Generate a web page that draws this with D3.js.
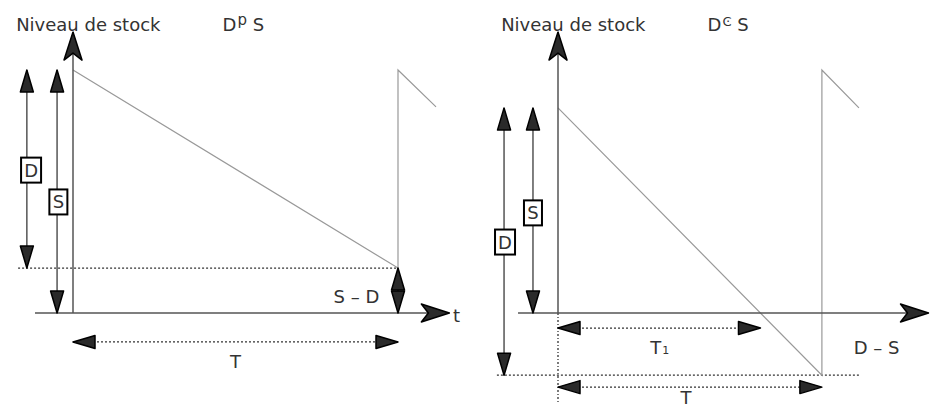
<!DOCTYPE html>
<head>
  <meta charset="utf-8">
  <script src="https://d3js.org/d3.v7.min.js"></script>
  <style>
    body { margin:0; background:#fff; }
    text { font-family: "DejaVu Sans", sans-serif; font-size: 18px; fill: #333; }
    .axis { stroke: #555; stroke-width: 1.5; fill: none; }
    .stock { stroke: #999; stroke-width: 1.2; fill: none; }
    .dots { stroke: #333; stroke-width: 1.3; stroke-dasharray: 2,2; fill: none; }
    .dim { stroke: #555; stroke-width: 1.5; fill: none; }
    .box { fill: #fff; stroke: #000; stroke-width: 2; }
  </style>
</head>
<body>
  <div class="chart"></div>
  <script>
    const width = 936, height = 414;

    // shared units: t in time units, level in stock units
    const titles = ['Niveau de stock', 'Niveau de stock'];
    const symbols = ['p', 'Ͼ'];           // superscript between D and S
    const origins = [73, 558];             // px of t = 0 for each panel
    const S = [10, 8.44];                  // order level at start of cycle
    const D = [8.15, 11];                  // demand over the cycle
    const T = [10, 8.12];                  // cycle length
    const nextPeak = [10, 10];             // restart level of next cycle
    const nextEnd = [[11.17, 8.48], [9.26, 8.44]];
    const xAxisExtent = [[-1.17, 11.58], [-1.23, 11.4]];
    const yAxisTop = 11.56;

    const svg = d3.select('.chart').append('svg')
      .attr('width', width).attr('height', height);

    const defs = svg.append('defs');
    defs.append('marker').attr('id', 'tri')
      .attr('markerUnits', 'userSpaceOnUse')
      .attr('viewBox', '-26 -9 28 18').attr('markerWidth', 28).attr('markerHeight', 18)
      .attr('refX', 0).attr('refY', 0).attr('orient', 'auto-start-reverse')
      .append('path').attr('d', 'M0,0 L-22,-6.5 L-22,6.5 Z')
      .attr('fill', '#2a2a2a').attr('stroke', '#000').attr('stroke-width', 1.5)
      .attr('stroke-linejoin', 'round');
    defs.append('marker').attr('id', 'stealth')
      .attr('markerUnits', 'userSpaceOnUse')
      .attr('viewBox', '-32 -12 34 24').attr('markerWidth', 34).attr('markerHeight', 24)
      .attr('refX', 0).attr('refY', 0).attr('orient', 'auto')
      .append('path').attr('d', 'M0,0 L-28,-9 L-21,0 L-28,9 Z')
      .attr('fill', '#2a2a2a').attr('stroke', '#000').attr('stroke-width', 1.5)
      .attr('stroke-linejoin', 'round');

    const y = d3.scaleLinear().domain([0, 10]).range([313, 70]);
    const line = (x) => d3.line().x(d => x(d[0])).y(d => y(d[1]));

    function seg(g, cls, x, a, b, start, end) {
      const p = g.append('path').attr('class', cls).attr('d', line(x)([a, b]));
      if (start) p.attr('marker-start', 'url(#' + start + ')');
      if (end) p.attr('marker-end', 'url(#' + end + ')');
      return p;
    }

    function boxLabel(g, cx, cy, txt, w) {
      g.append('rect').attr('class', 'box')
        .attr('x', cx - w / 2).attr('y', cy - 12.5).attr('width', w).attr('height', 25);
      g.append('text').attr('x', cx).attr('y', cy + 6.5)
        .attr('text-anchor', 'middle').text(txt);
    }

    function title(g, x, i) {
      g.append('text').attr('x', x(-1.75)).attr('y', y(11.6)).text(titles[i]);
      const t = g.append('text').attr('x', x(4.6)).attr('y', y(11.6));
      t.append('tspan').text('D');
      t.append('tspan').attr('dy', i ? -5 : -6).style('font-size', i ? '13px' : '15px')
        .attr('dx', 1).text(symbols[i]);
      t.append('tspan').attr('dy', i ? 5 : 6).text('\u00a0S');
    }

    // ---------- left panel : D < S ----------
    {
      const i = 0, g = svg.append('g');
      const x = d3.scaleLinear().domain([0, 1]).range([origins[i], origins[i] + 32.5]);
      const low = S[i] - D[i];

      seg(g, 'dots', x, [-1.69, low], [T[i], low]);
      g.append('path').attr('class', 'stock').attr('d', line(x)([
        [0, S[i]], [T[i], low], [T[i], nextPeak[i]], nextEnd[i]
      ]));

      seg(g, 'axis', x, [xAxisExtent[i][0], 0], [xAxisExtent[i][1], 0], null, 'stealth');
      seg(g, 'axis', x, [0, 0], [0, yAxisTop], null, 'stealth');

      seg(g, 'dim', x, [-1.42, S[i]], [-1.42, low], 'tri', 'tri');
      seg(g, 'dim', x, [-0.49, S[i]], [-0.49, 0], 'tri', 'tri');
      seg(g, 'dim', x, [T[i], low], [T[i], 0], 'tri', 'tri');
      seg(g, 'dots', x, [0, -1.19], [T[i], -1.19], 'tri', 'tri');

      boxLabel(g, x(-1.29), y(5.88), 'D', 20);
      boxLabel(g, x(-0.45), y(4.57), 'S', 18);

      g.append('text').attr('x', x(8.72)).attr('y', y(0.66) + 6.5)
        .attr('text-anchor', 'middle').text('S \u2013 D');
      g.append('text').attr('x', x(T[i] / 2)).attr('y', y(-1.98) + 6.5)
        .attr('text-anchor', 'middle').text('T');
      g.append('text').attr('x', x(11.8)).attr('y', y(-0.12) + 6.5)
        .attr('text-anchor', 'middle').text('t');
      title(g, x, i);
    }

    // ---------- right panel : D > S ----------
    {
      const i = 1, g = svg.append('g');
      const x = d3.scaleLinear().domain([0, 1]).range([origins[i], origins[i] + 32.5]);
      const low = S[i] - D[i];
      const T1 = T[i] * S[i] / D[i];

      seg(g, 'dots', x, [-1.88, low], [9.32, low]);
      g.append('path').attr('class', 'dots').style('stroke-dasharray', '2,2,1,2')
        .attr('d', line(x)([[0, 0], [0, -3.7]]));
      g.append('path').attr('class', 'stock').attr('d', line(x)([
        [0, S[i]], [T[i], low], [T[i], nextPeak[i]], nextEnd[i]
      ]));

      seg(g, 'axis', x, [xAxisExtent[i][0], 0], [xAxisExtent[i][1], 0], null, 'stealth');
      seg(g, 'axis', x, [0, 0], [0, yAxisTop], null, 'stealth');

      seg(g, 'dim', x, [-1.66, S[i]], [-1.66, low], 'tri', 'tri');
      seg(g, 'dim', x, [-0.77, S[i]], [-0.77, 0], 'tri', 'tri');
      seg(g, 'dots', x, [0, -0.62], [T1, -0.62], 'tri', 'tri');
      seg(g, 'dots', x, [0, -3.05], [T[i], -3.05], 'tri', 'tri');

      boxLabel(g, x(-1.63), y(2.92), 'D', 20);
      boxLabel(g, x(-0.77), y(4.12), 'S', 18);

      const t1 = g.append('text').attr('x', x(T1 / 2) - 9).attr('y', y(-1.4) + 6.5);
      t1.append('tspan').text('T');
      t1.append('tspan').style('font-size', '11px').attr('dx', 1).text('1');
      g.append('text').attr('x', x(T[i] / 2) - 4).attr('y', y(-3.85) - 3)
        .attr('text-anchor', 'middle').text('T');
      g.append('text').attr('x', x(9.8)).attr('y', y(-1.44) + 6.5)
        .attr('text-anchor', 'middle').text('D \u2013 S');
      title(g, x, i);
    }
  </script>
</body>
